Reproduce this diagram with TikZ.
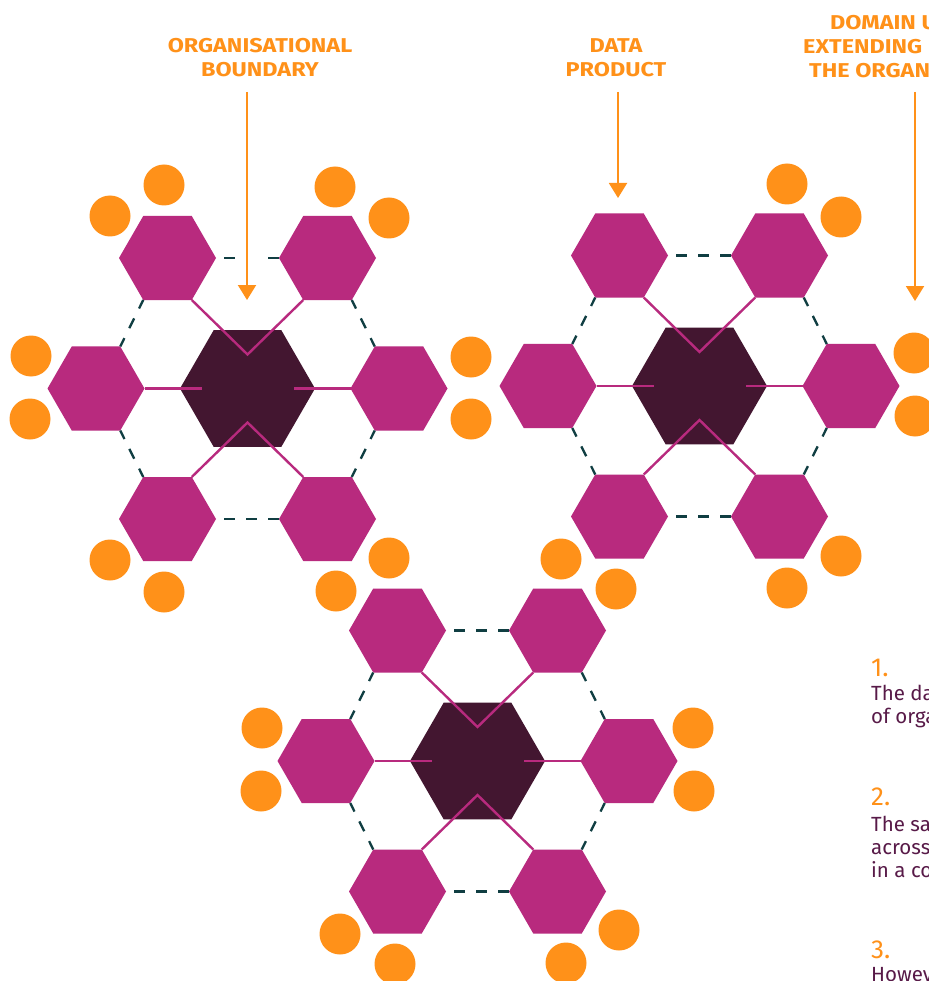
\documentclass[tikz,border=0pt]{standalone}
\usepackage{fontspec}
\setmainfont{Fira Sans}
\newfontfamily\headfont{Fira Sans}[FakeStretch=1.17]
\newfontfamily\notefont{Fira Sans}
\usetikzlibrary{shapes.geometric,arrows.meta}

\definecolor{dporange}{RGB}{255,145,25}
\definecolor{dpmagenta}{RGB}{184,42,126}
\definecolor{dpdark}{RGB}{67,22,48}
\definecolor{dpteal}{RGB}{16,62,66}
\definecolor{dptext}{RGB}{88,26,72}

\tikzset{
  domainhex/.style={regular polygon, regular polygon sides=6, minimum size=135pt,
    inner sep=0pt, outer sep=0pt, fill=dpdark},
  producthex/.style={regular polygon, regular polygon sides=6, minimum size=97pt,
    inner sep=0pt, outer sep=0pt, fill=dpmagenta},
  consumer/.style={circle, fill=dporange, minimum size=41pt, inner sep=0pt, outer sep=0pt},
  link/.style={draw=dpmagenta, line width=2.4pt},
  ringh/.style={draw=dpteal, line width=2.3pt, dash pattern=on 11pt off 11pt, dash phase=14pt},
  ringd/.style={draw=dpteal, line width=2.3pt, dash pattern=on 11pt off 11pt, dash phase=1.5pt},
  pointer/.style={draw=dporange, line width=2pt, -{Triangle[width=18pt,length=15pt]}},
  heading/.style={text=dporange, font=\headfont\bfseries\fontsize{20}{24}\selectfont,
    align=center, inner sep=0pt},
  headline/.style={text=dporange, font=\headfont\bfseries\fontsize{20}{24}\selectfont,
    inner sep=0pt, anchor=base west},
  stepnum/.style={text=dporange, font=\notefont\fontsize{26}{28}\selectfont,
    inner sep=0pt, anchor=base west},
  stepbody/.style={text=dptext, font=\notefont\fontsize{20.5}{23}\selectfont,
    align=left, inner sep=0pt, anchor=base west},
}

% One domain: a dark centre hexagon with six data-product hexagons around it
\newcommand{\domaincluster}[3]{%
  \node[domainhex]  (#1)    at (#2,#3) {};
  \node[producthex] (#1-tl) at ({#2-80},{#3-130.5}) {};
  \node[producthex] (#1-tr) at ({#2+80},{#3-130.5}) {};
  \node[producthex] (#1-l)  at ({#2-151.5},{#3}) {};
  \node[producthex] (#1-r)  at ({#2+151.5},{#3}) {};
  \node[producthex] (#1-bl) at ({#2-80},{#3+130.5}) {};
  \node[producthex] (#1-br) at ({#2+80},{#3+130.5}) {};
  \coordinate (#1-n) at ({#2},{#3-34});
  \coordinate (#1-s) at ({#2},{#3+34});
  \coordinate (#1-w) at ({#2-46},{#3});
  \coordinate (#1-e) at ({#2+46},{#3});
  \draw[link] (#1-tl.300) -- (#1-n) -- (#1-tr.240);
  \draw[link] (#1-bl.60) -- (#1-s) -- (#1-br.120);
  \draw[link] (#1-l.0) -- (#1-w);
  \draw[link] (#1-r.180) -- (#1-e);
  \draw[ringh] (#1-tl.0) -- (#1-tr.180);
  \draw[ringh] (#1-bl.0) -- (#1-br.180);
  \draw[ringd] (#1-tl.240) -- (#1-l.60);
  \draw[ringd] (#1-l.300) -- (#1-bl.120);
  \draw[ringd] (#1-tr.300) -- (#1-r.120);
  \draw[ringd] (#1-r.240) -- (#1-br.60);
}

\begin{document}
\begin{tikzpicture}[x=1pt,y=-1pt]
  \fill[white] (0,0) rectangle (928,981);
  \useasboundingbox (0,0) rectangle (928,981);

  % domains
  \domaincluster{da}{247.5}{388.5}
  \domaincluster{db}{699.5}{386}
  \domaincluster{dc}{477.5}{761}

  % consumers of the data products
  \foreach \cx/\cy [count=\i] in {
      164/185, 110/216, 335/187, 389/218, 31/356, 30/419, 471/357, 471/419,
      110/560, 164/592, 389/558, 336/591,
      787/184, 841/217, 914/353, 915/416, 561/559, 616/589, 841/556, 787/588,
      262/728, 261/791, 693/728, 694/791, 340/934, 395/964, 619/930, 566/963}
    \node[consumer] (use\i) at (\cx,\cy) {};

  % headings and their pointers (base anchor sits on the last line)
  \node[heading, anchor=base] (lblboundary) at (260,77) {ORGANISATIONAL\\BOUNDARY};
  \node[heading, anchor=base] (lblproduct) at (616,77) {DATA\\PRODUCT};
  \node[headline] (lbldomain1) at (830,30) {DOMAIN UNITS};
  \node[headline] (lbldomain2) at (803,54) {EXTENDING BEYOND};
  \node[headline] (lbldomain3) at (809,78) {THE ORGANISATION};

  \coordinate (ptrboundary0) at (247,92);
  \coordinate (ptrboundary1) at (247,300);
  \coordinate (ptrproduct0) at (618,92);
  \coordinate (ptrproduct1) at (618,198);
  \coordinate (ptrdomain0) at (915,92);
  \coordinate (ptrdomain1) at (915,301);
  \draw[pointer, preaction={draw=white, line width=20pt, -}] (ptrboundary0) -- (ptrboundary1);
  \draw[pointer] (ptrproduct0) -- (ptrproduct1);
  \draw[pointer] (ptrdomain0) -- (ptrdomain1);

  % numbered notes
  \node[stepnum] (num1) at (871,676) {1.};
  \node[stepbody] (note1) at (871,723) {The data\\of organisations};
  \node[stepnum] (num2) at (871,805) {2.};
  \node[stepbody] (note2) at (871,877) {The same\\across\\in a common};
  \node[stepnum] (num3) at (871,958) {3.};
  \node[stepbody] (note3) at (871,981) {However,};
\end{tikzpicture}
\end{document}
